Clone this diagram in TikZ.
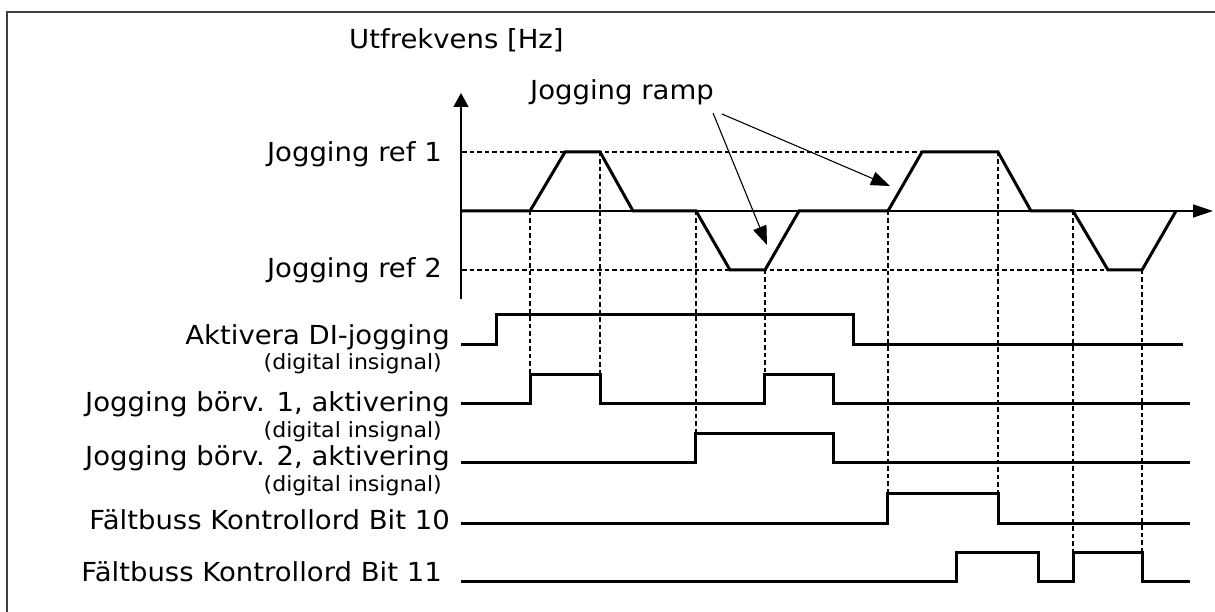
\documentclass[tikz,border=0pt]{standalone}
\usepackage{fontspec}
\setmainfont{DejaVu Sans}[FakeStretch=1.05]
\usetikzlibrary{arrows.meta}
\begin{document}
\begin{tikzpicture}[x=1pt,y=-1pt,
  lbl/.style={anchor=base east,inner sep=0pt,font=\fontsize{26.2}{30}\selectfont},
  sublbl/.style={anchor=base east,inner sep=0pt,font=\fontsize{21}{24}\selectfont},
  toplbl/.style={anchor=base west,inner sep=0pt,font=\fontsize{26.2}{30}\selectfont},
  wave/.style={line width=3pt,line join=miter},
  sig/.style={line width=3pt,line join=miter},
  guide/.style={line width=1.1pt,dash pattern=on 4.5pt off 3pt},
  axisline/.style={line width=1.6pt},
  pointer/.style={line width=1.1pt,-{Triangle[length=19pt,width=14pt]}}]
\useasboundingbox (0,0) rectangle (1215,612);
% frame
\draw[line width=2pt,draw=black!75] (7,630) -- (7,12) -- (1230,12);
% reference dashed levels
\draw[guide] (462,152) -- (922,152);
\draw[guide] (462,270) -- (1108,270);
% vertical guides
\draw[guide] (530,211) -- (530,374);
\draw[guide] (600,152) -- (600,374);
\draw[guide] (696,211) -- (696,433);
\draw[guide] (765,270) -- (765,374);
\draw[guide] (888,211) -- (888,493);
\draw[guide] (998,152) -- (998,493);
\draw[guide] (1073,211) -- (1073,552);
\draw[guide] (1142,270) -- (1142,552);
% axes
\coordinate (yb) at (461,299);
\coordinate (yt) at (461,93);
\coordinate (xo) at (461,211);
\coordinate (xe) at (1213,211);
\draw[axisline,-{Triangle[length=14pt,width=15pt]}] (yb) -- (yt);
\draw[axisline,-{Triangle[length=20pt,width=13pt]}] (xo) -- (xe);
% output frequency
\draw[wave] (462,211) -- (530,211) -- (565,152) -- (600,152) -- (633,211) -- (696,211)
  -- (730,270) -- (765,270) -- (799,211) -- (888,211) -- (922,152) -- (998,152)
  -- (1031,211) -- (1073,211) -- (1108,270) -- (1142,270) -- (1176,211);
% signals
\draw[sig] (461,344) -- (496,344) -- (496,314) -- (853,314) -- (853,344) -- (1183,344);
\draw[sig] (461,403) -- (530,403) -- (530,374) -- (600,374) -- (600,403) -- (764,403)
  -- (764,374) -- (833,374) -- (833,403) -- (1190,403);
\draw[sig] (461,462) -- (695,462) -- (695,433) -- (833,433) -- (833,462) -- (1190,462);
\draw[sig] (461,523) -- (887,523) -- (887,493) -- (998,493) -- (998,523) -- (1190,523);
\draw[sig] (461,581) -- (956,581) -- (956,552) -- (1038,552) -- (1038,581) -- (1073,581)
  -- (1073,552) -- (1142,552) -- (1142,581) -- (1190,581);
% texts
\node[toplbl] (yl) at (349,49) {Utfrekvens [Hz]};
\node[toplbl] (jr) at (530,100) {Jogging ramp};
\node[lbl] (ref1) at (442,162) {Jogging ref 1};
\node[lbl] (ref2) at (442,278) {Jogging ref 2};
\node[lbl] (di) at (450,344) {Aktivera DI-jogging};
\node[sublbl] (di2) at (442,369) {(digital insignal)};
\node[lbl] (b1) at (450,411) {Jogging börv. 1, aktivering};
\node[sublbl] (b1s) at (442,437) {(digital insignal)};
\node[lbl] (b2) at (450,465) {Jogging börv. 2, aktivering};
\node[sublbl] (b2s) at (442,491) {(digital insignal)};
\node[lbl] (f10) at (450,529) {Fältbuss Kontrollord Bit 10};
\node[lbl] (f11) at (442,581) {Fältbuss Kontrollord Bit 11};
% ramp pointers
\coordinate (p1s) at (713,113);
\coordinate (p1e) at (767,245);
\coordinate (p2s) at (722,114);
\coordinate (p2e) at (890,186);
\draw[pointer] (p1s) -- (p1e);
\draw[pointer] (p2s) -- (p2e);
\end{tikzpicture}
\end{document}
